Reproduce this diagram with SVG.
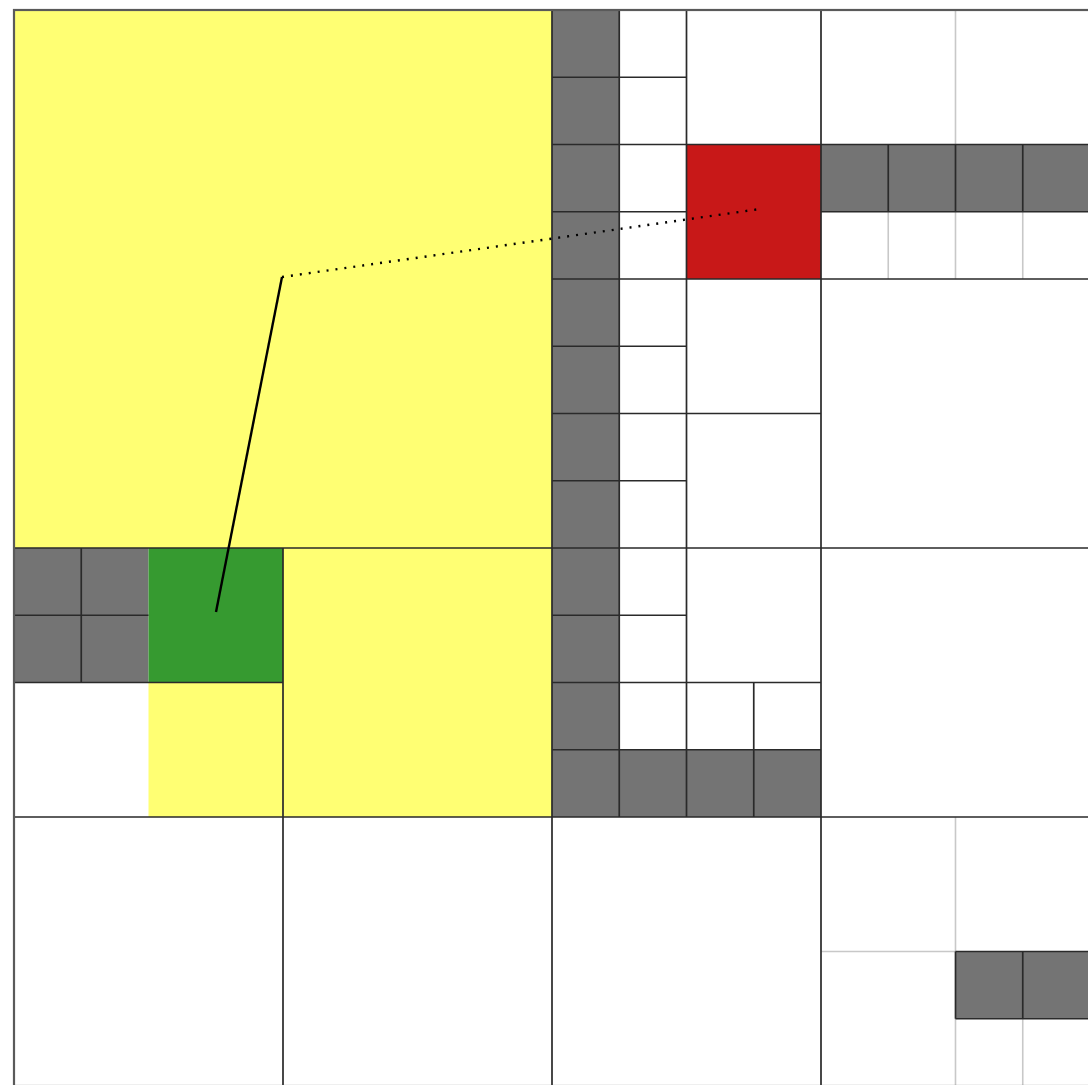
<svg xmlns="http://www.w3.org/2000/svg" width="1088" height="1085" viewBox="0 0 1088 1085">
<style>
.gray{fill:#747474}
.yellow{fill:#ffff73}
.green{fill:#369a30}
.red{fill:#c81818}
.dark{stroke:#2a2a2a;stroke-width:1.7;fill:none}
.light{stroke:#c8c8c8;stroke-width:1.6;fill:none}
.outer{stroke:#5a5a5a;stroke-width:2.2;fill:none}
</style>
<rect x="0" y="0" width="1088" height="1085" fill="#ffffff"/>
<g id="fills">
<rect class="gray" x="552" y="10" width="67.25" height="807"/>
<rect class="gray" x="619.25" y="749.75" width="201.75" height="67.25"/>
<rect class="gray" x="821" y="144.5" width="269" height="67.25"/>
<rect class="gray" x="14" y="548" width="134.5" height="134.5"/>
<rect class="gray" x="955.5" y="951.5" width="134.5" height="67.25"/>
</g>
<g id="region-yellow">
<rect class="yellow" x="14" y="10" width="538" height="538"/>
<rect class="yellow" x="283" y="548" width="269" height="269"/>
<rect class="yellow" x="148.5" y="682.5" width="134.5" height="134.5"/>
</g>
<g id="cell-green">
<rect class="green" x="148.5" y="548" width="134.5" height="134.5"/>
</g>
<g id="cell-red">
<rect class="red" x="686.5" y="144.5" width="134.5" height="134.5"/>
</g>
<g id="grid-light">
<path class="light" d="M955.5 10V144.5 M888.25 211.75V279 M955.5 211.75V279 M1022.75 211.75V279 M955.5 817V951.5 M955.5 1018.75V1086 M1022.75 1018.75V1086 M821 951.5H955.5"/>
</g>
<g id="grid-dark">
<path class="dark" d="M552 10V1086 M821 10V1086 M283 548V1086 M619.25 10V817 M686.5 10V817 M753.75 682.5V817 M81.25 548V682.5 M888.25 144.5V211.75 M955.5 144.5V211.75 M1022.75 144.5V211.75 M955.5 951.5V1018.75 M1022.75 951.5V1018.75"/>
<path class="dark" d="M14 548H1090 M14 817H1090 M552 279H1090 M552 144.5H1090 M552 413.5H821 M14 682.5H283 M552 682.5H821 M552 77.25H686.5 M552 211.75H686.5 M821 211.75H1090 M552 346.25H686.5 M552 480.75H686.5 M14 615.25H148.5 M552 615.25H686.5 M552 749.75H821 M955.5 1018.75H1090 M955.5 951.5H1090"/>
<rect class="outer" x="14" y="10" width="1076" height="1076"/>
</g>
<g id="connectors">
<line x1="216" y1="612" x2="282" y2="277" stroke="#000" stroke-width="2.4"/>
<line x1="282" y1="277" x2="760" y2="209" stroke="#000" stroke-width="2.4" stroke-dasharray="2 7"/>
</g>
</svg>
